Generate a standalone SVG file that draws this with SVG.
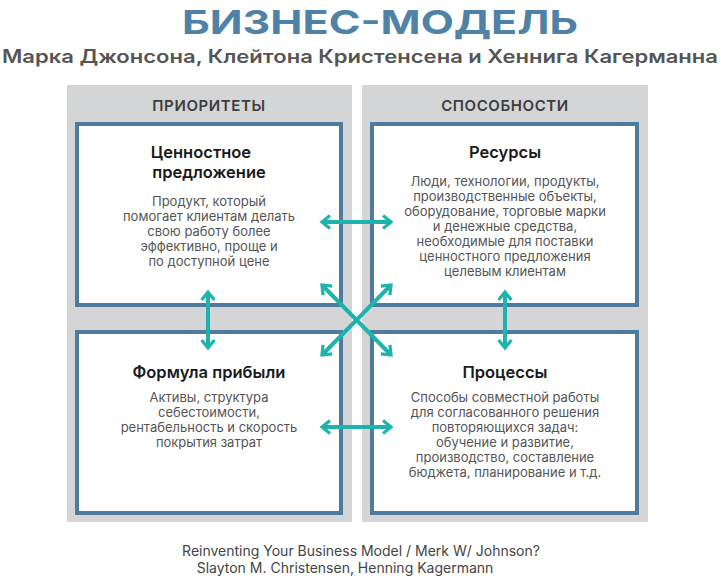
<svg xmlns="http://www.w3.org/2000/svg" width="721" height="578" viewBox="0 0 721 578">
<defs>
<style>
text{font-family:Inter,"Open Sans","Liberation Sans",sans-serif;text-anchor:middle}
.panel{fill:#d4d5d7}
.box{fill:#fff;stroke:#4f7c9c;stroke-width:4}
.ph{font-size:15px;font-weight:600;fill:#3d3d3d;letter-spacing:0.6px}
.h{font-size:16.5px;font-weight:600;fill:#1a1a1a}
.b{font-size:13px;fill:#555}
.a{stroke:#1fb3ad;stroke-width:4;fill:none}
</style>
<marker id="m" viewBox="0 0 10 10" refX="6" refY="5" markerWidth="4" markerHeight="4" orient="auto-start-reverse" markerUnits="strokeWidth"><path d="M1,1 L6,5 L1,9" fill="none" stroke="#1fb3ad" stroke-width="2"/></marker>
</defs>
<rect width="721" height="578" fill="#fff"/>
<text x="380" y="34" textLength="396" lengthAdjust="spacingAndGlyphs" style="font-size:33px;font-weight:700;fill:#4f82a6">БИЗНЕС-МОДЕЛЬ</text>
<text x="360" y="63" textLength="716" lengthAdjust="spacingAndGlyphs" style="font-size:18px;font-weight:600;fill:#555">Марка Джонсона, Клейтона Кристенсена и Хеннига Кагерманна</text>
<rect class="panel" x="67" y="85" width="285" height="437"/>
<rect class="panel" x="362" y="85" width="286" height="437"/>
<text class="ph" x="209" y="111">ПРИОРИТЕТЫ</text>
<text class="ph" x="505" y="111">СПОСОБНОСТИ</text>
<g id="value"><rect class="box" x="77" y="124" width="264" height="181"/>
<text class="h" x="201" y="158">Ценностное</text><text class="h" x="209" y="178">предложение</text>
<text class="b" x="209" y="206">Продукт, который</text><text class="b" x="209" y="221">помогает клиентам делать</text><text class="b" x="209" y="236">свою работу более</text><text class="b" x="209" y="251">эффективно, проще и</text><text class="b" x="209" y="266">по доступной цене</text></g>
<g id="resources"><rect class="box" x="372" y="124" width="265" height="181"/>
<text class="h" x="505" y="158">Ресурсы</text>
<text class="b" x="505" y="186">Люди, технологии, продукты,</text><text class="b" x="505" y="201">производственные объекты,</text><text class="b" x="505" y="216">оборудование, торговые марки</text><text class="b" x="505" y="231">и денежные средства,</text><text class="b" x="505" y="246">необходимые для поставки</text><text class="b" x="505" y="261">ценностного предложения</text><text class="b" x="505" y="276">целевым клиентам</text></g>
<g id="profit"><rect class="box" x="77" y="332" width="264" height="181"/>
<text class="h" x="209" y="378">Формула прибыли</text>
<text class="b" x="209" y="402">Активы, структура</text><text class="b" x="209" y="417">себестоимости,</text><text class="b" x="209" y="432">рентабельность и скорость</text><text class="b" x="209" y="447">покрытия затрат</text></g>
<g id="processes"><rect class="box" x="372" y="332" width="265" height="181"/>
<text class="h" x="505" y="378">Процессы</text>
<text class="b" x="505" y="402">Способы совместной работы</text><text class="b" x="505" y="417">для согласованного решения</text><text class="b" x="505" y="432">повторяющихся задач:</text><text class="b" x="505" y="447">обучение и развитие,</text><text class="b" x="505" y="462">производство, составление</text><text class="b" x="505" y="477">бюджета, планирование и т.д.</text></g>
<g id="connectors">
<line class="a" x1="322" y1="222" x2="391" y2="222" marker-start="url(#m)" marker-end="url(#m)"/>
<line class="a" x1="322" y1="427" x2="391" y2="427" marker-start="url(#m)" marker-end="url(#m)"/>
<line class="a" x1="208" y1="292" x2="208" y2="348" marker-start="url(#m)" marker-end="url(#m)"/>
<line class="a" x1="505" y1="292" x2="505" y2="348" marker-start="url(#m)" marker-end="url(#m)"/>
<line class="a" x1="322" y1="285" x2="391" y2="355" marker-start="url(#m)" marker-end="url(#m)"/>
<line class="a" x1="391" y1="285" x2="322" y2="355" marker-start="url(#m)" marker-end="url(#m)"/>
</g>
<text x="361" y="556" style="font-size:14px;fill:#444">Reinventing Your Business Model / Merk W/ Johnson?</text>
<text x="345" y="573" style="font-size:14px;fill:#444">Slayton M. Christensen, Henning Kagermann</text>
</svg>
